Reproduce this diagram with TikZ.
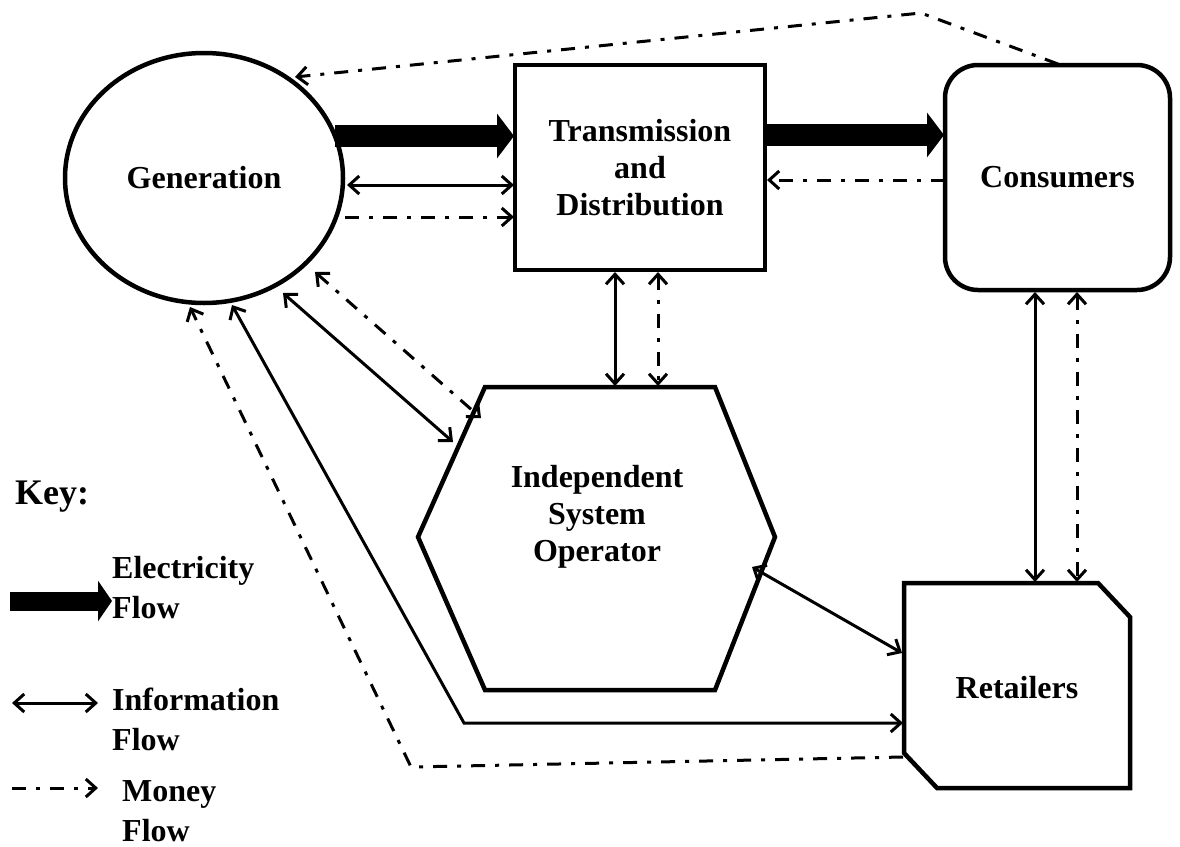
\documentclass[tikz,border=0pt]{standalone}
\usepackage{fontspec}
\setmainfont{Liberation Serif}
\usetikzlibrary{arrows.meta,shapes.geometric}
\begin{document}
\begin{tikzpicture}[x=1pt,y=-1pt,
  shapeline/.style={line width=4.5pt},
  barb/.tip={Straight Barb[length=10pt,width=18pt]},
  info/.style={line width=3pt,barb-barb},
  money/.style={line width=3pt,dash pattern=on 14pt off 10pt on 4pt off 10pt,-barb},
  money2/.style={money,barb-barb},
  elec/.style={line width=22pt,-{Triangle[length=17pt,width=44pt]}},
  lbl/.style={font=\fontsize{32}{37}\selectfont\bfseries,align=center,inner sep=0pt},
  keylbl/.style={lbl,align=left,anchor=west,font=\fontsize{32}{40}\selectfont\bfseries},
]
\useasboundingbox[fill=white] (0,0) rectangle (1180,846);

% main nodes
\node[draw,shapeline,ellipse,minimum width=278pt,minimum height=250pt,lbl] (gen) at (204,178) {Generation};
\node[draw,shapeline,minimum width=250pt,minimum height=205pt,lbl] (td) at (640,167.5) {Transmission\\and\\Distribution};
\node[draw,shapeline,rounded corners=33pt,minimum width=225pt,minimum height=225pt,lbl] (cons) at (1057.5,177.5) {Consumers};
\node[lbl] (iso) at (597,517) {Independent\\System\\Operator};
\draw[shapeline] (485,387) -- (715,387) -- (775,537) -- (715,690) -- (485,690) -- (418,537) -- cycle;
\node[lbl] (ret) at (1017,688) {Retailers};
\draw[shapeline] (904,583) -- (1098,583) -- (1130,617) -- (1130,788) -- (937,788) -- (904,753) -- cycle;

% connector end points
\coordinate (gE1) at (335,136); \coordinate (tW1) at (514,136);
\coordinate (tE1) at (765,135); \coordinate (cW1) at (944,135);
\coordinate (gE2) at (347,185); \coordinate (tW2) at (514,185);
\coordinate (gE3) at (345,217); \coordinate (tW3) at (514,217);
\coordinate (cW2) at (945,180); \coordinate (tE2) at (767,180);
\coordinate (cN) at (1058,64); \coordinate (peak) at (921,13); \coordinate (gNE) at (295,77);
\coordinate (tS1) at (615,272); \coordinate (iN1) at (615,386);
\coordinate (tS2) at (658,272); \coordinate (iN2) at (658,386);
\coordinate (gSE1) at (283,293); \coordinate (iNW1) at (453,442);
\coordinate (gSE2) at (315,272); \coordinate (iNW2) at (481,418);
\coordinate (gS1) at (232,305); \coordinate (bend1) at (464,723); \coordinate (rW1) at (903,723);
\coordinate (rW2) at (903,757); \coordinate (bend2) at (411,767); \coordinate (gS2) at (190,307);
\coordinate (iSE) at (752,567); \coordinate (rW3) at (902,653);
\coordinate (cS1) at (1035,292); \coordinate (rN1) at (1035,582);
\coordinate (cS2) at (1077,292); \coordinate (rN2) at (1077,582);

% connectors
\draw[elec] (gE1) -- (tW1);
\draw[elec] (tE1) -- (cW1);
\draw[info] (gE2) -- (tW2);
\draw[money] (gE3) -- (tW3);
\draw[money] (cW2) -- (tE2);
\draw[money] (cN) -- (peak) -- (gNE);
\draw[info] (tS1) -- (iN1);
\draw[money2] (tS2) -- (iN2);
\draw[info] (gSE1) -- (iNW1);
\draw[money2] (gSE2) -- (iNW2);
\draw[info] (gS1) -- (bend1) -- (rW1);
\draw[money] (rW2) -- (bend2) -- (gS2);
\draw[info] (iSE) -- (rW3);
\draw[info] (cS1) -- (rN1);
\draw[money2] (cS2) -- (rN2);

% key
\node[keylbl,font=\fontsize{36}{40}\selectfont\bfseries] (key) at (15,497) {Key:};
\coordinate (k1a) at (10,601); \coordinate (k1b) at (112,601);
\draw[elec,line width=19pt,-{Triangle[length=14pt,width=40pt]}] (k1a) -- (k1b);
\node[keylbl] (kelec) at (112,588) {Electricity\\Flow};
\coordinate (k2a) at (12,703); \coordinate (k2b) at (98,703);
\draw[info] (k2a) -- (k2b);
\node[keylbl] (kinfo) at (112,719) {Information\\Flow};
\coordinate (k3a) at (12,788); \coordinate (k3b) at (98,788);
\draw[money] (k3a) -- (k3b);
\node[keylbl] (kmoney) at (122,811) {Money\\Flow};
\end{tikzpicture}
\end{document}
